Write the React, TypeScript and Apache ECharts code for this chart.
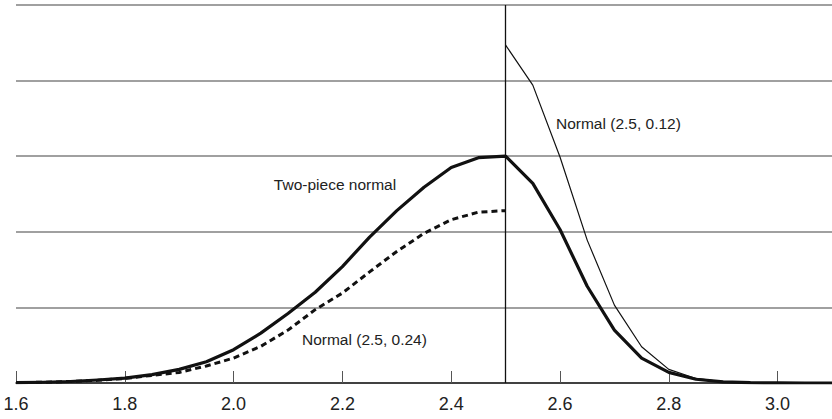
import React, { useEffect, useRef } from "react";
import * as echarts from "echarts";

// x positions (0.05 steps)
const xAll = [1.6, 1.65, 1.7, 1.75, 1.8, 1.85, 1.9, 1.95, 2.0, 2.05, 2.1, 2.15, 2.2, 2.25, 2.3, 2.35, 2.4, 2.45, 2.5, 2.55, 2.6, 2.65, 2.7, 2.75, 2.8, 2.85, 2.9, 2.95, 3.0, 3.05, 3.1];
const xLeft = [1.6, 1.65, 1.7, 1.75, 1.8, 1.85, 1.9, 1.95, 2.0, 2.05, 2.1, 2.15, 2.2, 2.25, 2.3, 2.35, 2.4, 2.45, 2.5];
const xRight = [2.5, 2.55, 2.6, 2.65, 2.7, 2.75, 2.8, 2.85, 2.9, 2.95, 3.0, 3.05, 3.1];

// Two-piece normal (thick solid)
const twoPiece = [0.004, 0.01, 0.02, 0.04, 0.065, 0.11, 0.18, 0.28, 0.44, 0.66, 0.92, 1.2, 1.54, 1.93, 2.28, 2.59, 2.85, 2.98, 3.0, 2.64, 2.03, 1.28, 0.7, 0.33, 0.14, 0.05, 0.015, 0.004, 0.001, 0, 0];
// Normal (2.5, 0.24) left half (dashed)
const normal024 = [0.005, 0.01, 0.02, 0.035, 0.06, 0.1, 0.14, 0.225, 0.33, 0.485, 0.7, 0.97, 1.19, 1.47, 1.74, 1.98, 2.16, 2.26, 2.28];
// Normal (2.5, 0.12) right half (thin)
const normal012 = [4.47, 3.94, 2.99, 1.89, 1.03, 0.48, 0.18, 0.06, 0.015, 0.004, 0.001, 0, 0];

const xTicks = { min: 1.6, max: 3.1, interval: 0.2 };
const yTicks = { min: 0, max: 5, interval: 1 };
const modeX = 2.5;

const annotations = [
  { text: "Two-piece normal", x: 2.074, y: 2.62 },
  { text: "Normal (2.5, 0.24)", x: 2.1257, y: 0.569 },
  { text: "Normal (2.5, 0.12)", x: 2.5926, y: 3.435 },
];

const pair = (xs: number[], ys: number[]) => xs.map((x, i) => [x, ys[i]]);

export default function App() {
  const ref = useRef<HTMLDivElement>(null);
  useEffect(() => {
    if (!ref.current) return;
    const chart = echarts.init(ref.current, null, { renderer: "svg" });
    const textFont = "'Liberation Sans', Arial, Helvetica, sans-serif";
    chart.setOption({
      animation: false,
      grid: { left: 16, right: 0, top: 5, bottom: 36, containLabel: false },
      xAxis: {
        type: "value",
        min: xTicks.min,
        max: xTicks.max,
        interval: xTicks.interval,
        axisLine: { show: true, lineStyle: { color: "#222", width: 1.5 } },
        axisTick: { show: true, inside: true, length: 12, lineStyle: { color: "#555", width: 1 } },
        axisLabel: {
          margin: 12,
          color: "#222",
          fontSize: 18,
          fontFamily: "'Liberation Sans Narrow', 'Arial Narrow', 'Liberation Sans', Arial, sans-serif",
          showMaxLabel: false,
          formatter: (v: number) => (v > 3.05 ? "" : v.toFixed(1)),
        },
        splitLine: { show: false },
      },
      yAxis: {
        type: "value",
        min: yTicks.min,
        max: yTicks.max,
        interval: yTicks.interval,
        axisLine: { show: false },
        axisTick: { show: false },
        axisLabel: { show: false },
        splitLine: { show: true, lineStyle: { color: "#808080", width: 1.5 } },
      },
      series: [
        {
          name: "Normal (2.5, 0.24)",
          type: "line",
          data: pair(xLeft, normal024),
          symbol: "none",
          lineStyle: { color: "#111", width: 3, type: [6, 4], cap: "butt" },
          z: 3,
        },
        {
          name: "Normal (2.5, 0.12)",
          type: "line",
          data: pair(xRight, normal012),
          symbol: "none",
          lineStyle: { color: "#111", width: 1.2 },
          z: 3,
        },
        {
          name: "Two-piece normal",
          type: "line",
          data: pair(xAll, twoPiece),
          symbol: "none",
          lineStyle: { color: "#111", width: 3.2, join: "round" },
          z: 4,
          markLine: {
            silent: true,
            symbol: "none",
            label: { show: false },
            lineStyle: { color: "#111", width: 1.3, type: "solid" },
            data: [{ xAxis: modeX }],
          },
        },
      ],
    });
    chart.setOption({
      graphic: annotations.map((a) => {
        const p = chart.convertToPixel({ gridIndex: 0 }, [a.x, a.y]) as number[];
        return {
          type: "text",
          x: p[0],
          y: p[1],
          style: {
            text: a.text,
            fill: "#222",
            font: `15.5px ${textFont}`,
            verticalAlign: "middle",
            align: "left",
          },
          z: 10,
        };
      }),
    });
    return () => chart.dispose();
  }, []);
  return <div ref={ref} style={{ width: 832, height: 419, position: "absolute", left: 0, top: 0 }} />;
}
